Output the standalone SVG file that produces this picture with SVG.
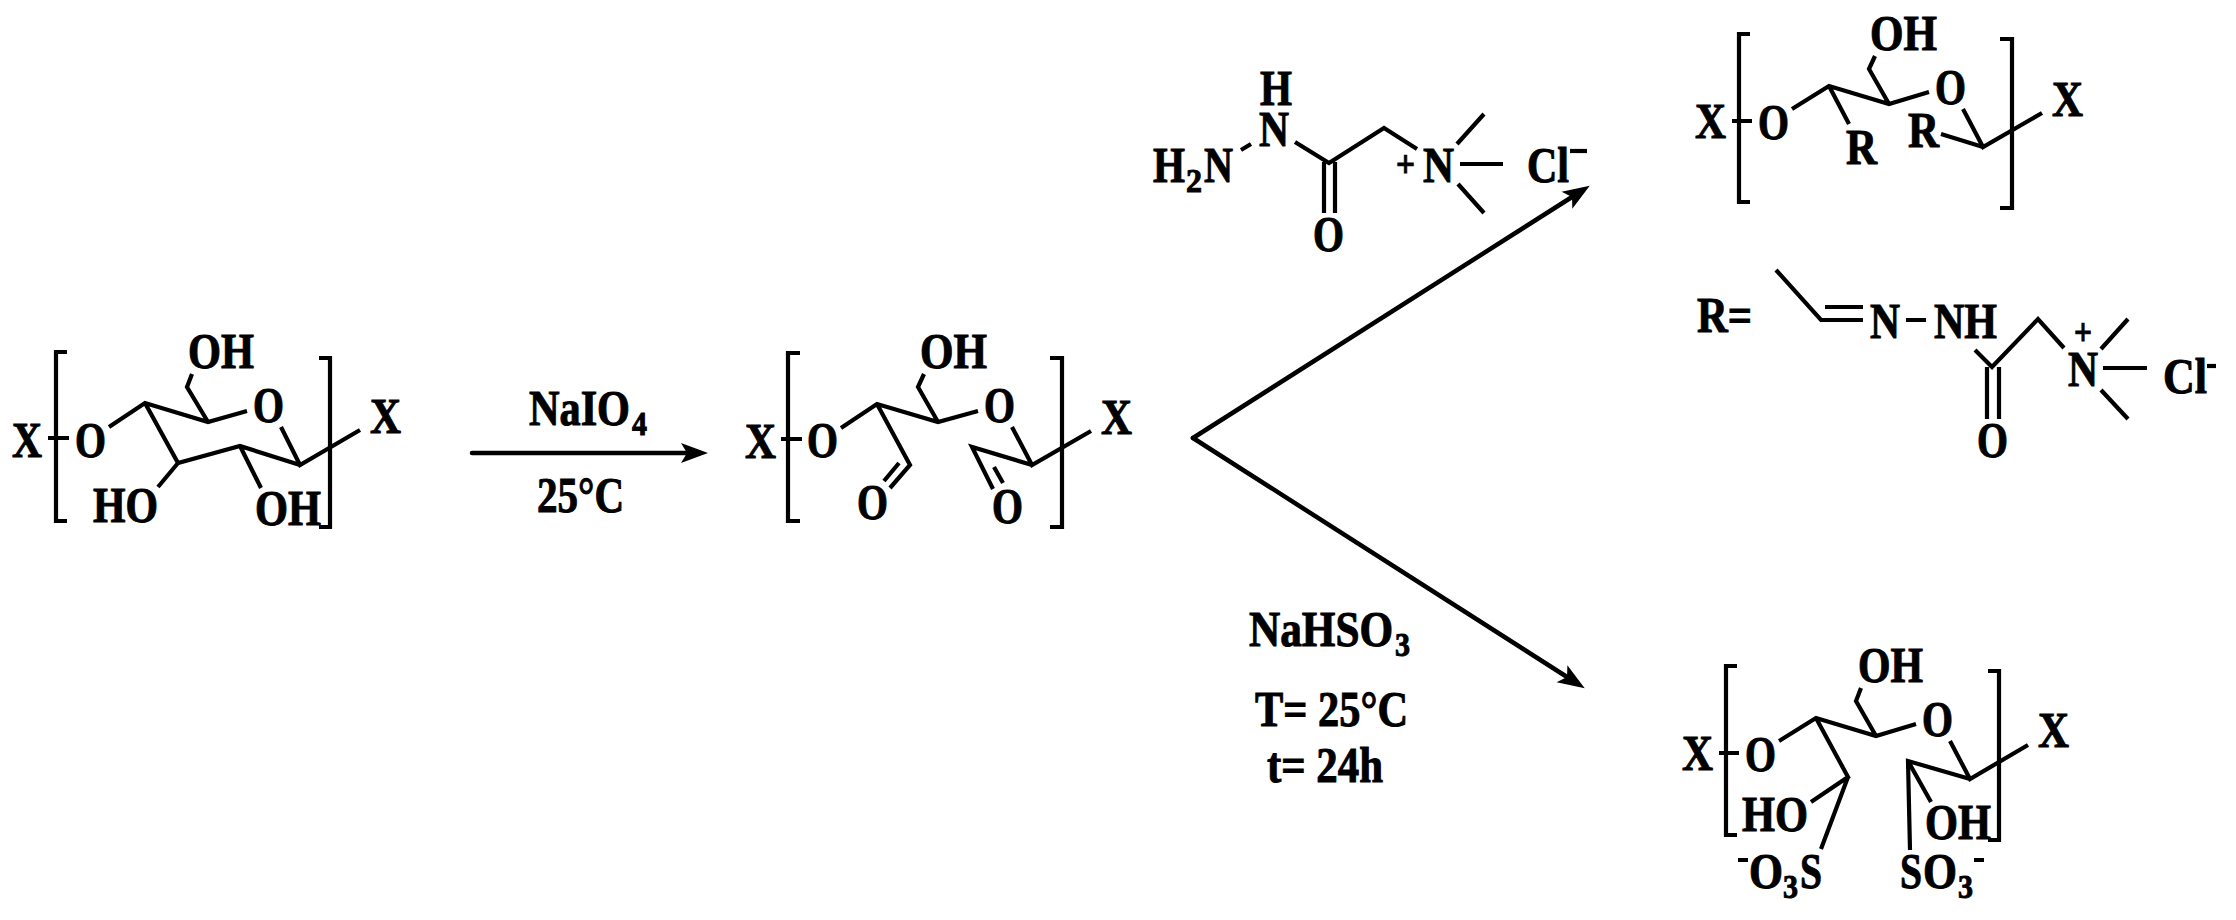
<svg xmlns="http://www.w3.org/2000/svg" width="2236" height="920" viewBox="0 0 2236 920">
<style>
text{font-family:"Liberation Serif","Times New Roman",serif;font-weight:700;font-size:50px;fill:#000;stroke:#000;stroke-width:1}
.s{font-size:34px}
.p{font-size:38px}
.b{fill:none;stroke:#000;stroke-width:4.2;stroke-linejoin:miter;stroke-linecap:butt}
.a{fill:none;stroke:#000;stroke-width:4.5;stroke-linecap:round}
</style>
<defs>
<marker id="h" markerUnits="userSpaceOnUse" markerWidth="40" markerHeight="30" refX="24" refY="15" orient="auto">
<path d="M32,15 L5,5 L11,15 L5,25 Z" fill="#000"/>
</marker>
</defs>
<rect width="2236" height="920" fill="#fff"/>
<g id="connectors">
<line class="a" x1="472" y1="453" x2="700" y2="453" marker-end="url(#h)"/>
<line class="a" x1="1193" y1="438" x2="1583" y2="190" marker-end="url(#h)"/>
<line class="a" x1="1193" y1="438" x2="1578" y2="684" marker-end="url(#h)"/>
</g>
<g id="glucose">
<path class="b" d="M67,352H56V521H67M319,358H330V527H319"/>
<path class="b" d="M48,438H69M109,427L145,403L208,422L247,411M208,422L187,387L192,374M281,427L300,465L360,430M145,403L178,463L240,446L300,465M178,463L158,487M240,446L261,488"/>
<text x="12" y="457" textLength="30" lengthAdjust="spacingAndGlyphs">X</text>
<text x="75" y="457" textLength="31" lengthAdjust="spacingAndGlyphs">O</text>
<text x="188" y="368" textLength="66" lengthAdjust="spacingAndGlyphs">OH</text>
<text x="253" y="422" textLength="31" lengthAdjust="spacingAndGlyphs">O</text>
<text x="370" y="433" textLength="31" lengthAdjust="spacingAndGlyphs">X</text>
<text x="93" y="522" textLength="65" lengthAdjust="spacingAndGlyphs">HO</text>
<text x="255" y="525" textLength="66" lengthAdjust="spacingAndGlyphs">OH</text>
</g>
<g id="reagent-periodate">
<text x="529" y="425" textLength="101" lengthAdjust="spacingAndGlyphs">NaIO</text>
<text class="s" x="632" y="435" textLength="15" lengthAdjust="spacingAndGlyphs">4</text>
<text x="537" y="512" textLength="87" lengthAdjust="spacingAndGlyphs">25°C</text>
</g>
<g id="dialdehyde">
<path class="b" d="M800,353H788V521H800M1050,358H1062V527H1050"/>
<path class="b" d="M781,439H802M841,428L877,404L938,422L978,411M938,422L918,387L924,374M1012,427L1032,465L1091,431M1032,465L972,447L993,489M994,467L1003,483M877,404L910,465L890,488M899,463L884,481"/>
<text x="745" y="458" textLength="31" lengthAdjust="spacingAndGlyphs">X</text>
<text x="807" y="457" textLength="31" lengthAdjust="spacingAndGlyphs">O</text>
<text x="920" y="368" textLength="67" lengthAdjust="spacingAndGlyphs">OH</text>
<text x="984" y="422" textLength="31" lengthAdjust="spacingAndGlyphs">O</text>
<text x="1101" y="434" textLength="31" lengthAdjust="spacingAndGlyphs">X</text>
<text x="992" y="523" textLength="31" lengthAdjust="spacingAndGlyphs">O</text>
<text x="857" y="519" textLength="31" lengthAdjust="spacingAndGlyphs">O</text>
</g>
<g id="girard-reagent">
<path class="b" d="M1241,150L1251,144M1295,142L1329,163L1384,128L1417,149M1324,162V213M1335,162V213M1457,144L1484,114M1460,164H1503M1458,184L1484,213"/>
<text x="1260" y="105" textLength="32" lengthAdjust="spacingAndGlyphs">H</text>
<text x="1259" y="146" textLength="30" lengthAdjust="spacingAndGlyphs">N</text>
<text x="1153" y="182" textLength="32" lengthAdjust="spacingAndGlyphs">H</text>
<text class="s" x="1186" y="192" textLength="16" lengthAdjust="spacingAndGlyphs">2</text>
<text x="1204" y="182" textLength="29" lengthAdjust="spacingAndGlyphs">N</text>
<text x="1313" y="251" textLength="31" lengthAdjust="spacingAndGlyphs">O</text>
<text class="p" x="1396" y="177" textLength="19" lengthAdjust="spacingAndGlyphs">+</text>
<text x="1423" y="182" textLength="31" lengthAdjust="spacingAndGlyphs">N</text>
<text x="1527" y="182" textLength="42" lengthAdjust="spacingAndGlyphs">Cl</text>
<path class="b" d="M1570,151H1587"/>
</g>
<g id="hydrazone-product">
<path class="b" d="M1750,34H1739V202H1750M2000,39H2012V208H2000"/>
<path class="b" d="M1732,121H1752M1792,109L1829,86L1889,104L1929,92M1889,104L1869,69L1875,56M1963,109L1983,147L2042,113M1983,147L1941,134M1829,86L1849,124"/>
<text x="1695" y="138" textLength="31" lengthAdjust="spacingAndGlyphs">X</text>
<text x="1758" y="139" textLength="31" lengthAdjust="spacingAndGlyphs">O</text>
<text x="1870" y="50" textLength="67" lengthAdjust="spacingAndGlyphs">OH</text>
<text x="1935" y="104" textLength="31" lengthAdjust="spacingAndGlyphs">O</text>
<text x="2052" y="116" textLength="31" lengthAdjust="spacingAndGlyphs">X</text>
<text x="1908" y="147" textLength="31" lengthAdjust="spacingAndGlyphs">R</text>
<text x="1846" y="164" textLength="31" lengthAdjust="spacingAndGlyphs">R</text>
</g>
<g id="r-group">
<path class="b" d="M1776,270L1821,320H1863M1825,307H1863M1906,320H1926M1975,350L1992,367L2038,319L2064,348M1987,367V419M1999,367V419M2101,349L2128,319M2103,368H2147M2101,390L2128,419"/>
<text x="1697" y="332" textLength="55" lengthAdjust="spacingAndGlyphs">R=</text>
<text x="1870" y="338" textLength="30" lengthAdjust="spacingAndGlyphs">N</text>
<text x="1934" y="338" textLength="63" lengthAdjust="spacingAndGlyphs">NH</text>
<text x="1977" y="457" textLength="31" lengthAdjust="spacingAndGlyphs">O</text>
<text class="p" x="2074" y="345" textLength="18" lengthAdjust="spacingAndGlyphs">+</text>
<text x="2068" y="386" textLength="30" lengthAdjust="spacingAndGlyphs">N</text>
<text x="2163" y="393" textLength="44" lengthAdjust="spacingAndGlyphs">Cl</text>
<path class="b" d="M2207,366H2216"/>
</g>
<g id="reagent-bisulfite">
<text x="1249" y="646" textLength="144" lengthAdjust="spacingAndGlyphs">NaHSO</text>
<text class="s" x="1395" y="656" textLength="15" lengthAdjust="spacingAndGlyphs">3</text>
<text x="1255" y="726" textLength="153" lengthAdjust="spacingAndGlyphs">T= 25°C</text>
<text x="1267" y="782" textLength="116" lengthAdjust="spacingAndGlyphs">t= 24h</text>
</g>
<g id="sulfonate-product">
<path class="b" d="M1737,666H1726V835H1737M1988,671H1999V840H1988"/>
<path class="b" d="M1719,753H1739M1779,741L1816,718L1876,736L1916,724M1876,736L1856,701L1861,688M1950,741L1970,779L2028,745M1970,779L1908,761L1910,850M1908,761L1931,802M1816,718L1848,777L1811,802M1848,777L1821,849M1738,860H1748M1974,860H1984"/>
<text x="1682" y="770" textLength="31" lengthAdjust="spacingAndGlyphs">X</text>
<text x="1745" y="771" textLength="31" lengthAdjust="spacingAndGlyphs">O</text>
<text x="1858" y="682" textLength="65" lengthAdjust="spacingAndGlyphs">OH</text>
<text x="1922" y="736" textLength="31" lengthAdjust="spacingAndGlyphs">O</text>
<text x="2038" y="747" textLength="31" lengthAdjust="spacingAndGlyphs">X</text>
<text x="1925" y="839" textLength="66" lengthAdjust="spacingAndGlyphs">OH</text>
<text x="1742" y="831" textLength="66" lengthAdjust="spacingAndGlyphs">HO</text>
<text x="1749" y="888" textLength="34" lengthAdjust="spacingAndGlyphs">O</text>
<text class="s" x="1783" y="898" textLength="15" lengthAdjust="spacingAndGlyphs">3</text>
<text x="1800" y="888" textLength="22" lengthAdjust="spacingAndGlyphs">S</text>
<text x="1900" y="888" textLength="22" lengthAdjust="spacingAndGlyphs">S</text>
<text x="1923" y="888" textLength="34" lengthAdjust="spacingAndGlyphs">O</text>
<text class="s" x="1958" y="898" textLength="15" lengthAdjust="spacingAndGlyphs">3</text>
</g>
</svg>
